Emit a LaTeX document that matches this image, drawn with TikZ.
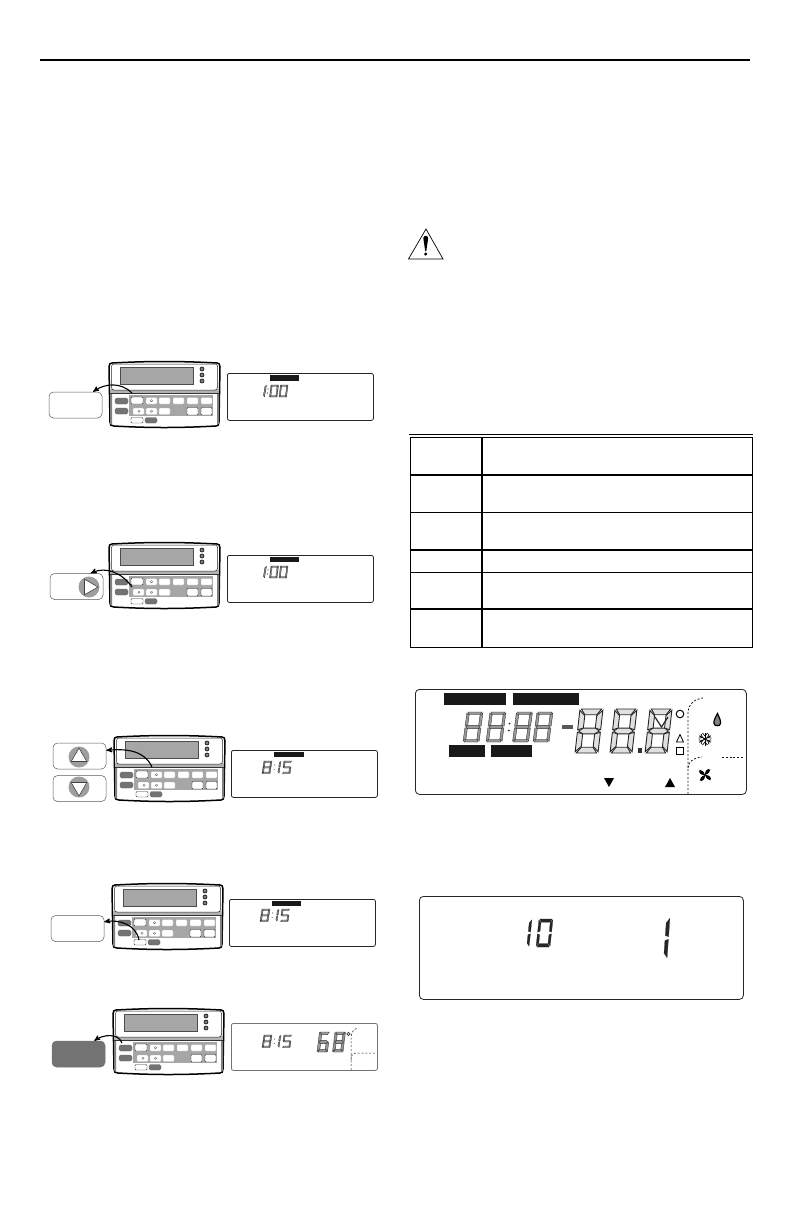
\documentclass[tikz,border=0pt]{standalone}
\usepackage{tikz}
\usetikzlibrary{arrows, shapes.geometric}
\usetikzlibrary{positioning}
\tikzstyle{lcd_panel} = [
    rectangle,
    rounded corners=2pt,
    draw=black!85,
    line width=0.8pt,
    fill=white,
    inner sep=0pt,
    anchor=north west,
    minimum width=146pt,
    minimum height=47pt
]
\tikzstyle{lcd_bar} = [
    rectangle,
    fill=black!90,
    inner sep=0pt,
    anchor=north west
]
\tikzstyle{pillow} = [
    rectangle,
    rounded corners=4.5pt,
    draw=black!65,
    line width=0.5pt,
    fill=white,
    inner sep=0pt,
    minimum width=53pt,
    minimum height=26pt
]
\tikzstyle{ring} = [
    circle,
    fill=black!38,
    inner sep=0pt,
    minimum size=21pt
]
\tikzstyle{arrow_mark} = [
    regular polygon,
    regular polygon sides=3,
    draw=black!75,
    fill=white,
    line width=0.6pt,
    inner sep=0pt,
    minimum size=18pt
]
\tikzstyle{call_arrow} = [
    -stealth',
    line width=1.1pt,
    black
]
\tikzstyle{lcdseg} = [fill=black!40, draw=black!85, line width=0.35pt]
\tikzstyle{bigseg} = [fill=black!12, draw=black!85, line width=0.9pt]
\tikzstyle{solidseg} = [fill=black!85, draw=black!85, line width=0.2pt]
\tikzstyle{zone_line} = [line width=0.8pt, black!90, dash pattern=on 2pt off 1.8pt]
\tikzstyle{tbl_thin} = [line width=0.8pt, black]
\tikzstyle{tbl_thick} = [line width=1.5pt, black]
\tikzstyle{key_white} = [fill=white, draw=black!30, line width=0.2pt, rounded corners=1pt]
\tikzstyle{key_edge} = [fill=white, draw=black!80, line width=0.4pt, rounded corners=1pt]
\tikzstyle{key_gray} = [fill=black!55, draw=black!60, line width=0.2pt, rounded corners=1.5pt]

% segments in a unit box, \segw and \segh give their thickness
\newcommand{\segw}{.17}
\newcommand{\segh}{.12}
\newcommand{\sega}{(.06,0) -- (.94,0) -- ({1-\segw},\segh) -- (\segw,\segh) -- cycle}
\newcommand{\segb}{(1,.03) -- (1,.47) -- ({1-\segw},{.5-\segh/2}) -- ({1-\segw},{\segh+.02}) -- cycle}
\newcommand{\segc}{(1,.53) -- (1,.97) -- ({1-\segw},{.98-\segh}) -- ({1-\segw},{.5+\segh/2}) -- cycle}
\newcommand{\segd}{(.06,1) -- (.94,1) -- ({1-\segw},{1-\segh}) -- (\segw,{1-\segh}) -- cycle}
\newcommand{\sege}{(0,.53) -- (0,.97) -- (\segw,{.98-\segh}) -- (\segw,{.5+\segh/2}) -- cycle}
\newcommand{\segf}{(0,.03) -- (0,.47) -- (\segw,{.5-\segh/2}) -- (\segw,{\segh+.02}) -- cycle}
\newcommand{\segg}{(.05,.5) -- (\segw,{.5-\segh/2}) -- ({1-\segw},{.5-\segh/2}) -- (.95,.5) -- ({1-\segw},{.5+\segh/2}) -- (\segw,{.5+\segh/2}) -- cycle}
\newcommand{\dgzero}{\sega,\segb,\segc,\segd,\sege,\segf}
\newcommand{\dgone}{\segb,\segc}
\newcommand{\dgfive}{\sega,\segc,\segd,\segf,\segg}
\newcommand{\dgsix}{\sega,\segc,\segd,\sege,\segf,\segg}
\newcommand{\dgeight}{\sega,\segb,\segc,\segd,\sege,\segf,\segg}
% [style]{x}{y}{width}{height}{slant}{segments}
\newcommand{\segdigit}[7][lcdseg]{
    \begin{scope}[shift={({#2+#6},#3)}, x={(#4pt,0pt)}, y={(-#6pt,-#5pt)}]
        \foreach \s in #7 { \path[#1] \s; }
    \end{scope}
}
\newcommand{\showonezero}[2]{
    \segdigit{#1-7.5}{#2}{8}{12}{2}{\dgone}
    \fill[black!80] (#1+4,#2+4) circle (0.55) (#1+3.5,#2+8) circle (0.55);
    \segdigit{#1+5.5}{#2}{7.5}{12}{1.5}{\dgzero}
    \segdigit{#1+15}{#2}{7.5}{12}{1.5}{\dgzero}
}
\newcommand{\showeightfifteen}[2]{
    \segdigit{#1}{#2}{8}{12.5}{2}{\dgeight}
    \fill[black!80] (#1+12.6,#2+4) circle (0.55) (#1+12.1,#2+8.5) circle (0.55);
    \segdigit{#1+9}{#2}{8}{12.5}{2}{\dgone}
    \segdigit{#1+20}{#2}{8}{12.5}{2}{\dgfive}
}

\tikzset{
    pics/thermostat/.style={
        code={
            % case
            \draw[line width=1.5pt, black, fill=white]
                (0,5) .. controls (0,2) and (1,1) .. (3,1)
                .. controls (40,-1) and (70,-1) .. (108,1)
                .. controls (110,1) and (111,2) .. (111,5)
                -- (110,60) .. controls (110,63) and (109,64) .. (107,64)
                .. controls (70,66) and (40,66) .. (5,64)
                .. controls (2,64) and (1,63) .. (1,60) -- cycle;
            \fill[black!30] (1,27) rectangle (110,32);
            \draw[line width=0.5pt, black!85, fill=white, rounded corners=2.5pt] (2.5,2) rectangle (108.5,28);
            \draw[line width=0.8pt, black!80] (1,31) -- (110,31);
            \fill[black!50] (1,32) rectangle (3,62) (108,32) rectangle (110,62);
            \draw[fill=black!35, draw=black!70, line width=0.4pt] (11,5) rectangle (84,22);
            \foreach \iy in {7,13,19} {
                \draw[fill=black!50, draw=black, line width=0.6pt] (93,\iy) circle (2);
            }
            % keys
            \fill[black!35] (20,33) rectangle (104,54);
            \path[key_edge] (22,35) rectangle (34,42);
            \foreach \kx in {37,50,64,78,92} {
                \path[key_white] (\kx,35.5) rectangle (\kx+11,42);
            }
            \draw[black!70, line width=0.3pt] (42.5,38.7) circle (1.2);
            \foreach \kx in {24,37,50} {
                \path[key_white] (\kx,46) rectangle (\kx+11,52.5);
            }
            \draw[black!70, line width=0.3pt] (30,49.2) circle (1.2) (42.5,49.2) circle (1.2);
            \path[key_edge] (78,45.5) rectangle (89,53);
            \path[key_edge] (92,45.5) rectangle (103,53);
            \path[key_gray] (6,36) rectangle (19,42);
            \path[key_gray] (6,46) rectangle (19,52);
            \path[key_edge] (22,55.5) rectangle (34,61);
            \path[key_gray] (36,55.5) rectangle (48,61);
            % places the arrows start from
            \coordinate (-setbtn) at (23,31);
            \coordinate (-nextbtn) at (23,44);
            \coordinate (-upbtn) at (38,31);
            \coordinate (-donebtn) at (27,56);
            \coordinate (-runbtn) at (9,34);
        }
    }
}

\begin{document}
\begin{tikzpicture}[x=1pt, y=-1pt]
\useasboundingbox (0,0) rectangle (792,1224);
\draw[line width=1.8pt] (40,60) -- (750,60);

% left column, step by step
\pic (t_a) at (109,362) {thermostat};
\pic (t_b) at (109,543) {thermostat};
\pic (t_c) at (114,736) {thermostat};
\pic (t_d) at (112,884) {thermostat};
\pic (t_e) at (113,1009) {thermostat};

\node [pillow] (c_a) at (75.5,405) {};
\node [pillow] (c_b) at (76.5,586.5) {};
\node [pillow] (c_up) at (79.5,756) {};
\node [pillow, below=6pt of c_up] (c_down) {};
\node [pillow] (c_d) at (77.5,928.5) {};
\node [pillow, fill=black!55, draw=black!55] (c_e) at (78.5,1054) {};

\node [ring] (r_b) at (89,587) {};
\node [arrow_mark, shape border rotate=-90] (m_b) at (r_b) {};
\node [ring] (r_up) at (79,757) {};
\node [arrow_mark] (m_up) at (r_up) {};
\node [ring] (r_down) at (79,787) {};
\node [arrow_mark, shape border rotate=180] (m_down) at (r_down) {};

\draw[call_arrow] (t_a-setbtn) to[out=135,in=35] (c_a.37);
\draw[call_arrow] (t_b-nextbtn) to[out=125,in=25] (c_b.43);
\draw[call_arrow] (t_c-upbtn) to[out=115,in=5] (c_up.12);
\draw[call_arrow] (t_d-donebtn) to[out=100,in=10] (c_d.14);
\draw[call_arrow] (t_e-runbtn) to[out=110,in=35] (c_e.40);

\node [lcd_panel] (p_a) at (227,373) {};
\node [lcd_bar, minimum width=29pt, minimum height=6pt] (b_a) at (270,375) {};
\showonezero{264}{385}
\node [lcd_panel] (p_b) at (227,555) {};
\node [lcd_bar, minimum width=29pt, minimum height=5pt] (b_b) at (270,557) {};
\showonezero{264}{566}
\node [lcd_panel] (p_c) at (231,750) {};
\node [lcd_bar, minimum width=30pt, minimum height=5pt] (b_c) at (274,752) {};
\showeightfifteen{262}{761}
\node [lcd_panel] (p_d) at (229,899) {};
\node [lcd_bar, minimum width=29pt, minimum height=5pt] (b_d) at (272,901) {};
\showeightfifteen{260}{909}
\node [lcd_panel, draw=black!55] (p_e) at (231,1023) {};
\showeightfifteen{262}{1035}
{
    \renewcommand{\segw}{.24}
    \renewcommand{\segh}{.14}
    \segdigit[lcdseg]{317}{1032}{10.5}{20}{2.5}{\dgsix}
    \segdigit[lcdseg]{332.5}{1032}{10.5}{20}{2.5}{\dgeight}
}
\draw[black!80, line width=0.7pt] (348.5,1034) circle (1.6);
\draw[zone_line, line width=0.5pt] (351,1070) -- (351,1038) .. controls (351,1033) and (353,1030) .. (357,1028);
\draw[zone_line, line width=0.5pt] (351,1060) .. controls (351,1056) and (352,1054) .. (355,1053) -- (376,1053);

% right column
\draw[line width=0.7pt, black, fill=white] (426,229) -- (443,259) -- (408.5,259) -- cycle;
\fill[black] (423.3,238) .. controls (423.5,235) and (428,235) .. (428.2,238) -- (426.3,251) -- (425.2,251) -- cycle;
\fill[black] (425.7,254) circle (1.7);

\draw[tbl_thin] (409,434) -- (753,434);
\draw[tbl_thin] (410,437) rectangle (752,647);
\draw[tbl_thick] (482,437) -- (482,647);
\draw[tbl_thick] (410,475) -- (752,475);
\draw[tbl_thin] (410,512) -- (752,512);
\draw[tbl_thick] (410,550) -- (752,550);
\draw[tbl_thin] (410,572) -- (752,572);
\draw[tbl_thick] (410,609) -- (752,609);

% full display
\node [lcd_panel, minimum width=331pt, minimum height=105pt, rounded corners=4pt] (p_full) at (415,689) {};
\node [lcd_bar, minimum width=62pt, minimum height=12pt] (b_fa) at (444,693) {};
\node [lcd_bar, minimum width=66pt, minimum height=12pt] (b_fb) at (513,693) {};
\node [lcd_bar, minimum width=36pt, minimum height=12pt] (b_fc) at (449,745) {};
\node [lcd_bar, minimum width=41pt, minimum height=12pt] (b_fd) at (491,745) {};
{
    \renewcommand{\segw}{.16}
    \renewcommand{\segh}{.09}
    \segdigit{463}{712}{16}{30}{4}{\dgeight}
    \segdigit{486}{712}{16}{30}{4}{\dgeight}
    \segdigit{512.5}{712}{16}{30}{4}{\dgeight}
    \segdigit{533}{712}{16}{30}{4}{\dgeight}
}
\fill[black!85] (509.5,723.5) circle (1) (508.8,730.5) circle (1);
\fill[black!65] (562,725) rectangle (573,729);
{
    \renewcommand{\segw}{.24}
    \renewcommand{\segh}{.13}
    \segdigit[bigseg]{575}{709}{23}{44}{5}{\dgeight}
    \segdigit[bigseg]{610}{709}{22}{44}{5}{\dgeight}
    \segdigit[bigseg]{645}{709}{22}{44}{5}{\dgeight}
}
\fill[black!80] (638,748) rectangle (642,753);
\draw[black!85, line width=1.2pt] (655,717) -- (661.5,727) -- (668,717);
\draw[line width=1pt] (680,714) circle (3.8);
\draw[line width=0.8pt] (676.5,742) -- (680,734.5) -- (683.5,742) -- cycle;
\draw[line width=0.8pt] (676.5,747.5) rectangle (683.5,754.5);
\draw[zone_line] (688,794) -- (688,712) .. controls (688,705) and (694,699) .. (703,698);
\draw[zone_line] (688,768) .. controls (688,762) and (693,758) .. (702,757);
\draw[zone_line] (722,757) -- (743,757);
\fill[black] (609,787) -- (604,778) -- (614,778) -- cycle;
\fill[black] (670,778) -- (675,787) -- (665,787) -- cycle;
% flame
\draw[black, fill=black!50, line width=1.2pt] (717.5,713.5) .. controls (715,718) and (713.5,721) .. (714,723.5)
    .. controls (714.5,726.5) and (720,726.5) .. (720.5,723.5) .. controls (721,720.5) and (719,717) .. (717.5,713.5) -- cycle;
% snowflake
\foreach \ang in {0,60,120} {
    \draw[black, line width=1pt, rotate around={\ang+30:(705,739)}] (698.5,739) -- (711.5,739);
    \draw[black, line width=0.7pt, rotate around={\ang+30:(705,739)}] (699,736.5) -- (702,739) -- (699,741.5) (711,736.5) -- (708,739) -- (711,741.5);
}
% fan
\foreach \ang in {45,135,225,315} {
    \fill[black, rotate around={\ang:(705,775)}] (705,775) .. controls (708,771.5) and (712,772) .. (712.5,775) .. controls (711,776.5) and (708,776.5) .. (705,775) -- cycle;
}

% lower display
\node [lcd_panel, minimum width=324pt, minimum height=103pt, rounded corners=4pt] (p_run) at (419,896) {};
\segdigit[solidseg]{515}{919}{14}{28}{3}{\dgone}
\segdigit[solidseg]{536}{919}{14}{28}{3}{\dgzero}
\segdigit[solidseg]{647}{917}{20}{42}{3}{\dgone}
\end{tikzpicture}
\end{document}
